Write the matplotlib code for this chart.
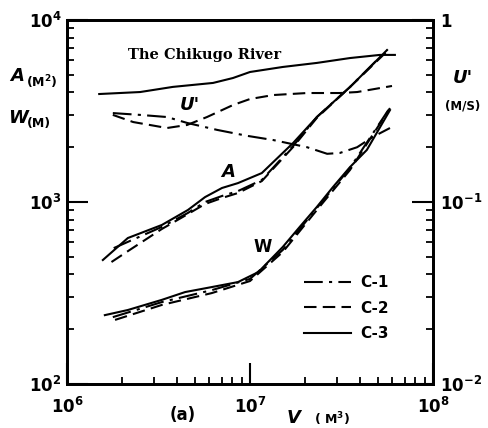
import matplotlib
matplotlib.use("Agg")
import matplotlib.pyplot as plt
from matplotlib.lines import Line2D
from matplotlib.ticker import LogLocator, NullFormatter

plt.rcParams['font.family'] = ['DejaVu Sans']
plt.rcParams['mathtext.fontset'] = 'dejavusans'

# ---- data ----
# A (cross-sectional area, m^2) vs V (m^3)
A_c1_x = [1.8e6, 3.3e6, 4.58e6, 5.68e6, 7.03e6, 8.59e6, 1.16e7, 1.72e7, 2.32e7, 3.52e7, 5.61e7]
A_c1_y = [558, 730, 871, 1000, 1079, 1148, 1321, 2032, 2931, 4285, 6839]
A_c2_x = [1.75e6, 2.2e6, 3.3e6, 4.58e6, 5.68e6, 7.03e6, 8.59e6, 1.16e7, 1.72e7, 2.32e7, 3.52e7, 5.8e7]
A_c2_y = [468, 545, 711, 859, 975, 1052, 1120, 1303, 2005, 2900, 4285, 6950]
A_c3_x = [1.57e6, 2.15e6, 3.30e6, 4.58e6, 5.68e6, 7.03e6, 8.59e6, 1.16e7, 1.72e7, 2.32e7, 3.52e7, 5.61e7]
A_c3_y = [480, 634, 748, 904, 1064, 1194, 1270, 1442, 2109, 2931, 4285, 6839]

# W (width, m) vs V
W_c1_x = [1.78e6, 3.3e6, 6.19e6, 1.0e7, 1.51e7, 2.32e7, 3.52e7, 5.7e7]
W_c1_y = [233, 282, 328, 378, 545, 927, 1538, 3200]
W_c2_x = [1.83e6, 3.3e6, 6.19e6, 1.0e7, 1.51e7, 2.32e7, 3.52e7, 5.82e7]
W_c2_y = [225, 272, 316, 368, 531, 904, 1500, 3280]
W_c3_x = [1.61e6, 2.15e6, 3.30e6, 4.42e6, 6.19e6, 8.59e6, 1.11e7, 1.51e7, 1.87e7, 2.32e7, 2.84e7, 3.52e7, 4.35e7, 5.82e7]
W_c3_y = [239, 255, 290, 320, 341, 363, 412, 566, 730, 940, 1208, 1556, 1932, 3199]

# U' (m/s) vs V, right axis
U_c1_x = [1.78e6, 2.51e6, 3.52e6, 4.53e6, 6.61e6, 9.64e6, 1.34e7, 2.05e7, 2.64e7, 3.10e7, 3.85e7, 4.70e7, 5.82e7]
U_c1_y = [0.308, 0.301, 0.293, 0.272, 0.249, 0.231, 0.219, 0.200, 0.184, 0.186, 0.200, 0.228, 0.255]
U_c2_x = [1.78e6, 2.30e6, 3.52e6, 4.53e6, 5.82e6, 8.07e6, 1.0e7, 1.34e7, 2.05e7, 3.10e7, 3.85e7, 5.97e7]
U_c2_y = [0.301, 0.275, 0.255, 0.265, 0.293, 0.341, 0.368, 0.387, 0.397, 0.397, 0.402, 0.434]
U_c3_x = [1.50e6, 2.51e6, 3.79e6, 6.28e6, 8.07e6, 1.0e7, 1.51e7, 2.32e7, 3.52e7, 5.13e7, 6.19e7]
U_c3_y = [0.392, 0.402, 0.429, 0.451, 0.480, 0.518, 0.552, 0.581, 0.618, 0.643, 0.643]

series_labels = ['C-1', 'C-2', 'C-3']
x_ticks = [1e6, 1e7, 1e8]
x_tick_labels = [r'$\mathbf{10^{6}}$', r'$\mathbf{10^{7}}$', r'$\mathbf{10^{8}}$']
yl_ticks = [1e2, 1e3, 1e4]
yl_tick_labels = [r'$\mathbf{10^{2}}$', r'$\mathbf{10^{3}}$', r'$\mathbf{10^{4}}$']
yr_ticks = [1e-2, 1e-1, 1]
yr_tick_labels = [r'$\mathbf{10^{-2}}$', r'$\mathbf{10^{-1}}$', r'$\mathbf{1}$']

W_PX, H_PX = 488, 428
fig = plt.figure(figsize=(W_PX / 100, H_PX / 100), dpi=100)
L, R, T, B = 67, 433, 20, 384
ax = fig.add_axes([L / W_PX, 1 - B / H_PX, (R - L) / W_PX, (B - T) / H_PX])
ax2 = ax.twinx()

styles = {
    'C-1': dict(color='black', lw=1.5, dashes=(9, 3, 1.5, 3)),
    'C-2': dict(color='black', lw=1.5, dashes=(6, 3)),
    'C-3': dict(color='black', lw=1.5, linestyle='-'),
}

ax.plot(A_c1_x, A_c1_y, **styles['C-1'])
ax.plot(A_c2_x, A_c2_y, **styles['C-2'])
ax.plot(A_c3_x, A_c3_y, **styles['C-3'])
ax.plot(W_c1_x, W_c1_y, **styles['C-1'])
ax.plot(W_c2_x, W_c2_y, **styles['C-2'])
ax.plot(W_c3_x, W_c3_y, **styles['C-3'])
ax2.plot(U_c1_x, U_c1_y, **styles['C-1'])
ax2.plot(U_c2_x, U_c2_y, **styles['C-2'])
ax2.plot(U_c3_x, U_c3_y, **styles['C-3'])

ax.set_xscale('log'); ax.set_yscale('log'); ax2.set_yscale('log')
ax.set_xlim(1e6, 1e8); ax.set_ylim(1e2, 1e4); ax2.set_ylim(1e-2, 1)

for a in (ax, ax2):
    for s in a.spines.values():
        s.set_linewidth(2.0)

ax.set_xticks(x_ticks); ax.set_xticklabels(x_tick_labels)
ax.set_yticks(yl_ticks); ax.set_yticklabels(yl_tick_labels)
ax.xaxis.set_minor_locator(LogLocator(base=10, subs=range(2, 10)))
ax.yaxis.set_minor_locator(LogLocator(base=10, subs=range(2, 10)))
ax.xaxis.set_minor_formatter(NullFormatter()); ax.yaxis.set_minor_formatter(NullFormatter())
ax.tick_params(which='major', direction='in', length=15, width=1.5, labelsize=12, pad=4,
               top=False, right=False)
ax.tick_params(axis='x', which='major', pad=9)
ax.tick_params(which='minor', direction='in', length=5, width=1.3, top=False, right=False)

ax2.set_yticks(yr_ticks); ax2.set_yticklabels(yr_tick_labels)
ax2.yaxis.set_minor_locator(LogLocator(base=10, subs=range(2, 10)))
ax2.yaxis.set_minor_formatter(NullFormatter())
ax2.tick_params(which='major', direction='in', length=15, width=1.5, labelsize=12, pad=5)
ax2.tick_params(which='minor', direction='in', length=5, width=1.3)

# legend
handles = [Line2D([], [], **styles[k]) for k in series_labels]
leg = ax.legend(handles, series_labels, loc='upper left',
                bbox_to_anchor=((298 - L) / (R - L), 1 - (269 - T) / (B - T)),
                frameon=False, handlelength=3.1, labelspacing=0.7, handletextpad=0.6,
                prop=dict(size=11, weight='bold'), borderaxespad=0)

def px(x, y):
    return x / W_PX, 1 - y / H_PX

fig.text(*px(128, 55), 'The Chikugo River', family='DejaVu Serif', weight='bold', fontsize=10.5, va='center', ha='left')
fig.text(*px(10, 76), 'A', fontsize=13, weight='bold', style='italic', va='center')
fig.text(*px(26, 82), r'($\mathbf{M^2}$)', fontsize=9, weight='bold', va='center')
fig.text(*px(8, 118), 'W', fontsize=13, weight='bold', style='italic', va='center')
fig.text(*px(27, 124), '(M)', fontsize=9, weight='bold', va='center')
fig.text(*px(190, 105), "U'", fontsize=13, weight='bold', style='italic', va='center', ha='center')
fig.text(*px(228, 172), 'A', fontsize=13, weight='bold', style='italic', va='center', ha='center')
fig.text(*px(263, 247), 'W', fontsize=12, weight='bold', va='center', ha='center')
fig.text(*px(463, 78), "U'", fontsize=13, weight='bold', style='italic', va='center', ha='center')
fig.text(*px(463, 106), '(M/S)', fontsize=8.5, weight='bold', va='center', ha='center')
fig.text(*px(183, 415), '(a)', fontsize=12, weight='bold', va='center', ha='center')
fig.text(*px(294, 418), 'V', fontsize=13, weight='bold', style='italic', va='center', ha='center')
fig.text(*px(332, 419), r'( $\mathbf{M^3}$)', fontsize=9, weight='bold', va='center', ha='center')

fig.savefig('out.png', dpi=100)
